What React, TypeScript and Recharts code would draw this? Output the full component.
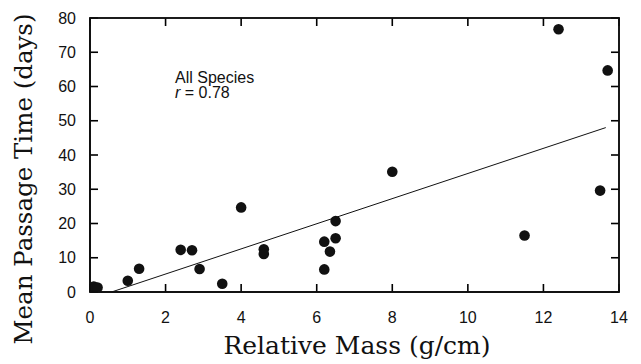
import React from 'react'
import { ScatterChart, Scatter, XAxis, YAxis, ReferenceLine, ReferenceArea } from 'recharts'

// relative mass (g/cm) vs mean passage time (days), all species
const relMass = [0.1, 0.2, 1.0, 1.3, 2.4, 2.7, 2.9, 3.5, 4.0, 4.6, 4.6, 6.2, 6.2, 6.35, 6.5, 6.5, 8.0, 11.5, 12.4, 13.5, 13.7]
const passage = [1.6, 1.3, 3.3, 6.8, 12.3, 12.2, 6.7, 2.4, 24.7, 12.5, 11.1, 14.7, 6.6, 11.8, 20.7, 15.7, 35.1, 16.5, 76.7, 29.6, 64.7]

// fitted line endpoints
const fitX = [0.57, 13.65]
const fitY = [0, 48]

const xTicks = [0, 2, 4, 6, 8, 10, 12, 14]
const yTicks = [0, 10, 20, 30, 40, 50, 60, 70, 80]

const points = relMass.map((x, i) => ({ x, y: passage[i] }))
const xMax = xTicks[xTicks.length - 1]
const yMax = yTicks[yTicks.length - 1]

const INK = '#111'
const SANS = '"Liberation Sans", Arial, sans-serif'
const SERIF = '"DejaVu Serif", "Liberation Serif", serif'
const TICK_LEN = 8
const X_MARGIN = 20
const Y_MARGIN = 14

// ticks point inward, so draw them ourselves next to the labels
function BottomTick({ x, y, payload }: any) {
  const axisY = Number(y) - X_MARGIN
  return (
    <g>
      <path d={`M${x},${axisY}V${axisY - TICK_LEN}`} stroke="#000" strokeWidth={1.6} />
      <text x={x} y={y} dy="0.71em" textAnchor="middle" fill={INK} fontSize={16} fontFamily={SANS}>
        {payload.value}
      </text>
    </g>
  )
}

function LeftTick({ x, y, payload }: any) {
  const axisX = Number(x) + Y_MARGIN
  return (
    <g>
      <path d={`M${axisX},${y}H${axisX + TICK_LEN}`} stroke="#000" strokeWidth={1.6} />
      <text x={x} y={y} dy="0.355em" textAnchor="end" fill={INK} fontSize={16} fontFamily={SANS}>
        {payload.value}
      </text>
    </g>
  )
}

function TopTick({ x, y }: any) {
  return <path d={`M${x},${y}v${TICK_LEN}`} stroke="#000" strokeWidth={1.6} />
}

function RightTick({ x, y }: any) {
  return <path d={`M${x},${y}h${-TICK_LEN}`} stroke="#000" strokeWidth={1.6} />
}

const Dot = ({ cx, cy }: any) => <circle cx={cx} cy={cy} r={5.3} fill={INK} />
const NoDot = () => <g />

export default function App() {
  return (
    <div style={{ position: 'absolute', left: 0, top: 0, width: 641, height: 364, background: '#fff' }}>
      <ScatterChart width={641} height={364} margin={{ top: 17, right: 21, left: 0, bottom: 0 }}>
        <XAxis
          xAxisId="b" type="number" dataKey="x" domain={[0, xMax]} ticks={xTicks}
          height={72} tickSize={0} tickMargin={X_MARGIN} tick={<BottomTick />}
          axisLine={{ stroke: INK, strokeWidth: 1.6 }} allowDataOverflow
        />
        <XAxis
          xAxisId="t" orientation="top" type="number" dataKey="x" domain={[0, xMax]} ticks={xTicks}
          height={1} tickSize={0} tickMargin={0} tick={<TopTick />}
          axisLine={false} allowDataOverflow
        />
        <YAxis
          yAxisId="l" type="number" dataKey="y" domain={[0, yMax]} ticks={yTicks}
          width={90} tickSize={0} tickMargin={Y_MARGIN} tick={<LeftTick />}
          axisLine={{ stroke: INK, strokeWidth: 1.6 }} allowDataOverflow
        />
        <YAxis
          yAxisId="r" orientation="right" type="number" dataKey="y" domain={[0, yMax]} ticks={yTicks}
          width={1} tickSize={0} tickMargin={0} tick={<RightTick />}
          axisLine={false} allowDataOverflow
        />
        {/* plot frame */}
        <ReferenceArea
          xAxisId="b" yAxisId="l" x1={0} x2={xMax} y1={0} y2={yMax}
          fill="none" fillOpacity={0} stroke={INK} strokeWidth={1.6} ifOverflow="visible"
        />
        <ReferenceLine
          xAxisId="b" yAxisId="l"
          segment={[{ x: fitX[0], y: fitY[0] }, { x: fitX[1], y: fitY[1] }]}
          stroke={INK} strokeWidth={1}
        />
        <Scatter xAxisId="t" yAxisId="r" data={points} shape={<NoDot />} isAnimationActive={false} />
        <Scatter xAxisId="b" yAxisId="l" data={points} shape={<Dot />} isAnimationActive={false} />
      </ScatterChart>
      <svg width={641} height={364} style={{ position: 'absolute', left: 0, top: 0, pointerEvents: 'none' }}>
        <rect x={90} y={18} width={529} height={274} fill="none" stroke={INK} strokeWidth={1.6} />
        <text x={175} y={83} fontSize={16} fontFamily={SANS} fill={INK}>All Species</text>
        <text x={175} y={97.5} fontSize={16} fontFamily={SANS} fill={INK}>
          <tspan fontStyle="italic">r</tspan> = 0.78
        </text>
        <text x={357} y={354} textAnchor="middle" fontSize={25} fontFamily={SERIF} fill={INK}>
          Relative Mass (g/cm)
        </text>
        <text
          x={32} y={179} textAnchor="middle" fontSize={24.5} fontFamily={SERIF} fill={INK}
          transform="rotate(-90 32 179)"
        >
          Mean Passage Time (days)
        </text>
      </svg>
    </div>
  )
}
